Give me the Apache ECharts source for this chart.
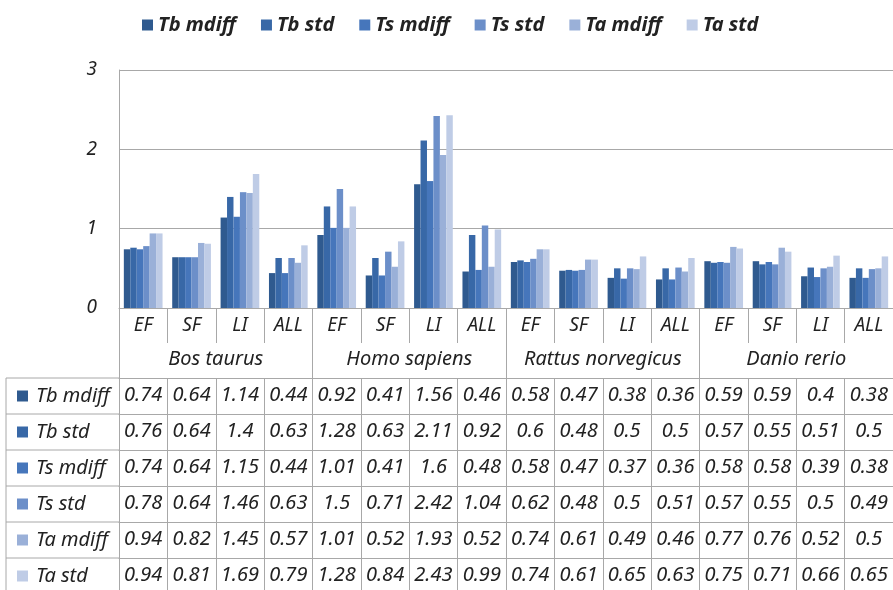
<!DOCTYPE html>
<html><head><meta charset="utf-8">
<script src="https://cdn.jsdelivr.net/npm/echarts@6/dist/echarts.min.js"></script>
<style>html,body{margin:0;padding:0;background:#fff}#c{width:893px;height:590px}</style>
</head><body><div id="c"></div>
<script>
const categories = ['EF','SF','LI','ALL','EF','SF','LI','ALL','EF','SF','LI','ALL','EF','SF','LI','ALL'];
const groups = ['Bos taurus','Homo sapiens','Rattus norvegicus','Danio rerio'];
const seriesNames = ['Tb mdiff','Tb std','Ts mdiff','Ts std','Ta mdiff','Ta std'];
const tbMdiff = [0.74,0.64,1.14,0.44, 0.92,0.41,1.56,0.46, 0.58,0.47,0.38,0.36, 0.59,0.59,0.4,0.38];
const tbStd   = [0.76,0.64,1.4,0.63,  1.28,0.63,2.11,0.92, 0.6,0.48,0.5,0.5,    0.57,0.55,0.51,0.5];
const tsMdiff = [0.74,0.64,1.15,0.44, 1.01,0.41,1.6,0.48,  0.58,0.47,0.37,0.36, 0.58,0.58,0.39,0.38];
const tsStd   = [0.78,0.64,1.46,0.63, 1.5,0.71,2.42,1.04,  0.62,0.48,0.5,0.51,  0.57,0.55,0.5,0.49];
const taMdiff = [0.94,0.82,1.45,0.57, 1.01,0.52,1.93,0.52, 0.74,0.61,0.49,0.46, 0.77,0.76,0.52,0.5];
const taStd   = [0.94,0.81,1.69,0.79, 1.28,0.84,2.43,0.99, 0.74,0.61,0.65,0.63, 0.75,0.71,0.66,0.65];
const yTicks = [0,1,2,3];

const allSeries = [tbMdiff,tbStd,tsMdiff,tsStd,taMdiff,taStd];
const colors = ['#2F5A8F','#3868A7','#4676BB','#6C8FC9','#9AB0D8','#BFCCE6'];
const FONT = '"Noto Sans", "Open Sans", sans-serif';
const txt = '#222';
const lineC = '#A8A8A8';
const gridTop = 70, gridH = 238, gridLeft = 119, gridW = 776;
const gridBottomY = gridTop + gridH;
const catRowH = 35, rowH = 36;
const tableOffset = catRowH * 2;

const chart = echarts.init(document.getElementById('c'));

const xAxes = [
  { type:'category', data:categories, gridIndex:0, position:'bottom',
    axisLine:{show:true,lineStyle:{color:lineC}},
    axisTick:{show:true,interval:0,length:catRowH,lineStyle:{color:lineC}},
    axisLabel:{interval:0,fontFamily:FONT,fontStyle:'italic',fontSize:19,color:txt,margin:8} },
  { type:'category', data:groups, gridIndex:0, position:'bottom', offset:catRowH,
    axisLine:{show:false},
    axisTick:{show:true,interval:0,length:catRowH,lineStyle:{color:lineC}},
    axisLabel:{interval:0,fontFamily:FONT,fontStyle:'italic',fontSize:20,color:txt,margin:6} }
];
allSeries.forEach((arr, i) => {
  xAxes.push({
    type:'category', data:categories.map((c,k)=>String(k)), gridIndex:0, position:'bottom',
    offset: tableOffset + rowH*i,
    axisLine:{show:true,lineStyle:{color:lineC}},
    axisTick:{show:true,interval:0,length:rowH,lineStyle:{color:lineC}},
    axisLabel:{interval:0,fontFamily:FONT,fontStyle:'italic',fontSize:20,color:txt,margin:7,
      formatter:(v, idx)=>String(arr[idx])}
  });
});

const graphics = [];
const tableTopY = gridBottomY + tableOffset;
graphics.push({type:'line', shape:{x1:6,y1:tableTopY,x2:6,y2:600}, style:{stroke:lineC,lineWidth:1}});
seriesNames.forEach((name, i) => {
  const y0 = tableTopY + rowH*i;
  graphics.push({type:'line', shape:{x1:6,y1:y0,x2:gridLeft,y2:y0}, style:{stroke:lineC,lineWidth:1}});
  graphics.push({type:'rect', shape:{x:17,y:y0+rowH/2-5.5,width:11,height:11}, style:{fill:colors[i]}});
  graphics.push({type:'text', x:36, y:y0+rowH/2, style:{text:name, font:'italic 20px "Noto Sans"', fill:txt, textVerticalAlign:'middle', verticalAlign:'middle'}});
});

chart.setOption({
  animation:false,
  color: colors,
  legend:{ data:seriesNames, left:137, top:10, itemWidth:11, itemHeight:11, itemGap:25, icon:'rect',
    textStyle:{fontFamily:FONT,fontStyle:'italic',fontWeight:'bold',fontSize:20,color:txt,padding:[0,0,0,0]} },
  grid:{ left:gridLeft, top:gridTop, width:gridW, height:gridH, containLabel:false },
  xAxis: xAxes,
  yAxis:{ type:'value', min:yTicks[0], max:yTicks[yTicks.length-1], interval:1,
    axisLine:{show:true,lineStyle:{color:lineC}}, axisTick:{show:false},
    splitLine:{lineStyle:{color:lineC}},
    axisLabel:{fontFamily:FONT,fontStyle:'italic',fontSize:19,color:txt,margin:22} },
  series: allSeries.map((arr,i)=>({
    name:seriesNames[i], type:'bar', xAxisIndex:0, data:arr, barGap:'0%', barCategoryGap:'20%',
    itemStyle:{color:colors[i]}
  })),
  graphic: graphics
});
</script></body></html>
